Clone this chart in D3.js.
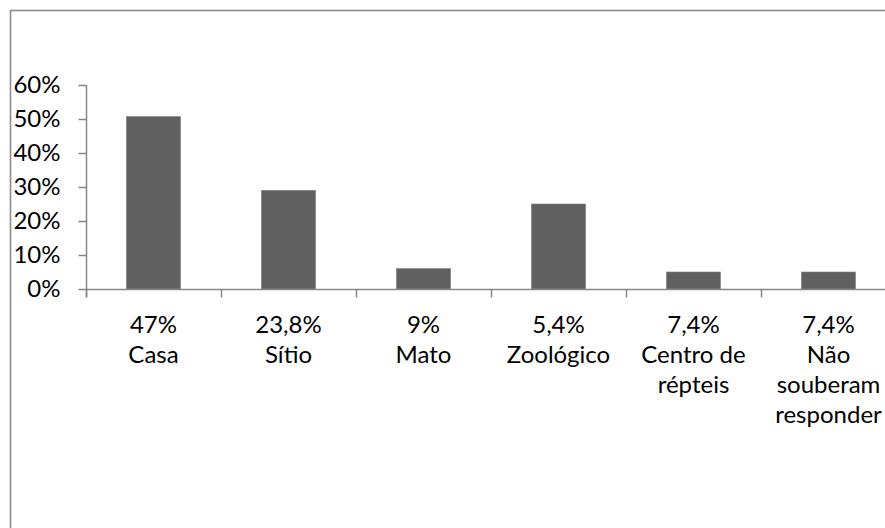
<!DOCTYPE html>
<html>
<head>
<meta charset="utf-8">
<script src="https://cdn.jsdelivr.net/npm/d3@7"></script>
<style>
  html, body { margin: 0; padding: 0; background: #fff; }
  svg { display: block; }
  text { font-family: Lato, "Open Sans", sans-serif; fill: #000; }
</style>
</head>
<body>
<svg id="chart" width="885" height="528"></svg>
<script>
const categories = ["Casa", "Sítio", "Mato", "Zoológico", "Centro de répteis", "Não souberam responder"];
const categoryLines = [["47%", "Casa"], ["23,8%", "Sítio"], ["9%", "Mato"], ["5,4%", "Zoológico"], ["7,4%", "Centro de", "répteis"], ["7,4%", "Não", "souberam", "responder"]];
const values = [0.507, 0.29, 0.06, 0.25, 0.05, 0.05];
const yTicks = [0, 0.1, 0.2, 0.3, 0.4, 0.5, 0.6];

const svg = d3.select("#chart");

// outer chart border
svg.append("rect")
  .attr("x", 10.5).attr("y", 10.5)
  .attr("width", 900).attr("height", 560)
  .attr("fill", "none").attr("stroke", "#8c8c8c").attr("stroke-width", 1.6);

const x = d3.scaleBand().domain(categories).range([86, 896]).padding(0);
const y = d3.scaleLinear().domain([0, 0.6]).range([289, 85]);

const axisColor = "#878787";

// bars
const barW = x.bandwidth() * 0.4;
svg.append("g").selectAll("rect")
  .data(values)
  .join("rect")
  .attr("x", (d, i) => x(categories[i]) + (x.bandwidth() - barW) / 2)
  .attr("y", d => y(d))
  .attr("width", barW)
  .attr("height", d => y(0) - y(d))
  .attr("fill", "#606060")
  .attr("stroke", "#7a7a7a")
  .attr("stroke-width", 0.6);

// y axis
const yAxis = d3.axisLeft(y)
  .tickValues(yTicks)
  .tickFormat(d3.format(".0%"))
  .tickSize(8)
  .tickPadding(18);
const gy = svg.append("g").attr("transform", "translate(86.5,0)").call(yAxis);
gy.select(".domain").remove();
gy.selectAll(".tick line").attr("stroke", axisColor).attr("stroke-width", 1.5);
gy.selectAll(".tick text").attr("font-size", 24).attr("font-family", "Lato, sans-serif").attr("fill", "#000");
gy.append("line")
  .attr("x1", 0).attr("x2", 0)
  .attr("y1", y(0.6)).attr("y2", y(0) + 8)
  .attr("stroke", axisColor).attr("stroke-width", 1.5);

// x axis
const gx = svg.append("g").attr("transform", "translate(0,289.5)");
gx.append("line")
  .attr("x1", 86).attr("x2", 896)
  .attr("stroke", axisColor).attr("stroke-width", 1.5);
const boundaries = categories.map(c => x(c)).concat([x.range()[1]]);
gx.selectAll("line.tick")
  .data(boundaries)
  .join("line")
  .attr("class", "tick")
  .attr("x1", d => d + 0.5).attr("x2", d => d + 0.5)
  .attr("y1", 0).attr("y2", 8)
  .attr("stroke", axisColor).attr("stroke-width", 1.5);

// category labels
const lab = svg.append("g");
categoryLines.forEach((lines, i) => {
  const cx = x(categories[i]) + x.bandwidth() / 2;
  const t = lab.append("text")
    .attr("text-anchor", "middle")
    .attr("font-size", 24);
  lines.forEach((ln, j) => {
    t.append("tspan")
      .attr("x", cx)
      .attr("y", 333 + j * 30)
      .text(ln);
  });
});
</script>
</body>
</html>
